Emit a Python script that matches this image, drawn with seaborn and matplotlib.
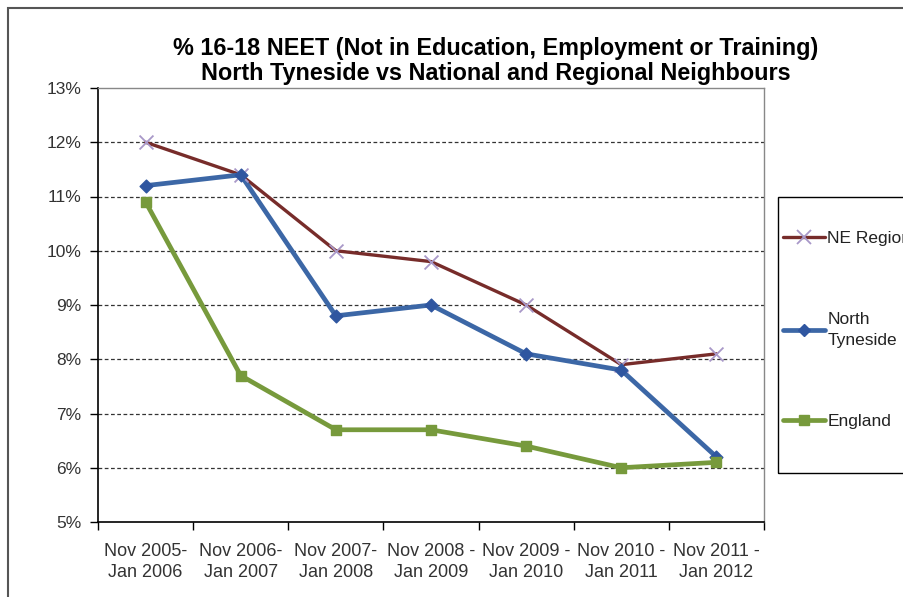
import matplotlib
matplotlib.use("Agg")
import matplotlib.pyplot as plt
import seaborn as sns
import pandas as pd
from matplotlib.patches import Rectangle
from matplotlib.lines import Line2D
from matplotlib.ticker import FuncFormatter

periods = ["Nov 2005-\nJan 2006", "Nov 2006-\nJan 2007", "Nov 2007-\nJan 2008",
           "Nov 2008 -\nJan 2009", "Nov 2009 -\nJan 2010", "Nov 2010 -\nJan 2011",
           "Nov 2011 -\nJan 2012"]
ne_region = [12.0, 11.4, 10.0, 9.8, 9.0, 7.9, 8.1]
north_tyneside = [11.2, 11.4, 8.8, 9.0, 8.1, 7.8, 6.2]
england = [10.9, 7.7, 6.7, 6.7, 6.4, 6.0, 6.1]
series_names = ["NE Region", "North\nTyneside", "England"]
title = "% 16-18 NEET (Not in Education, Employment or Training)\nNorth Tyneside vs National and Regional Neighbours"

sns.set_theme(style="white")
plt.rcParams["font.family"] = ["Liberation Sans", "DejaVu Sans"]

fig = plt.figure(figsize=(9.04, 5.97), dpi=100)
ax = fig.add_axes([98/904, 1 - 522/597, (764-98)/904, (522-88)/597])

x = list(range(len(periods)))
rows = []
for name, vals in zip(series_names, [ne_region, north_tyneside, england]):
    for i, v in enumerate(vals):
        rows.append({"x": i, "value": v, "series": name})
df = pd.DataFrame(rows)

styles = {
    "NE Region": dict(color="#772C2A", lw=2.4, marker="x", ms=10, mec="#A898C8", mfc="#A898C8", mew=1.3),
    "North\nTyneside": dict(color="#3C67A6", lw=3.4, marker="D", ms=6.5, mec="#2F56A0", mfc="#2F56A0", mew=1),
    "England": dict(color="#779A3C", lw=3.4, marker="s", ms=7.5, mec="#779A3C", mfc="#779A3C", mew=1),
}
for name in series_names:
    sub = df[df["series"] == name]
    st = styles[name]
    sns.lineplot(data=sub, x="x", y="value", ax=ax, color=st["color"], lw=st["lw"],
                 legend=False, zorder=3)
    sns.scatterplot(data=sub, x="x", y="value", ax=ax, marker=st["marker"],
                    s=st["ms"] ** 2, color=st["mfc"], edgecolor=st["mec"] if st["marker"] != "x" else None,
                    linewidth=st["mew"], legend=False, zorder=4)

ax.set_xlim(-0.5, len(periods) - 0.5)
ax.set_ylim(5, 13)
ax.set_yticks(range(5, 14))
ax.yaxis.set_major_formatter(FuncFormatter(lambda v, p: f"{int(v)}%"))
ax.set_xticks([i - 0.5 for i in range(len(periods) + 1)], minor=False)
ax.set_xticklabels([""] * (len(periods) + 1))
ax.set_xticks(x, minor=True)
ax.set_xticklabels(periods, minor=True, fontsize=13, color="#333333", linespacing=1.3)
ax.tick_params(axis="x", which="minor", length=0, pad=15)
ax.tick_params(axis="x", which="major", length=6, width=1, color="black", direction="out", bottom=True)
ax.tick_params(axis="y", length=6, width=1, color="black", direction="out", left=True,
               labelsize=12.5, labelcolor="#333333", pad=6)
for yv in range(6, 13):
    ax.axhline(yv, color="#333333", lw=0.9, ls=(0, (3, 2)), zorder=1)
ax.set_xlabel("")
ax.set_ylabel("")
for s in ["left", "bottom"]:
    ax.spines[s].set_color("black")
    ax.spines[s].set_linewidth(1.2)
for s in ["top", "right"]:
    ax.spines[s].set_color("#888888")
    ax.spines[s].set_linewidth(1.0)

fig.text(496/904, 1 - 61/597, title, ha="center", va="center", fontsize=16.8,
         fontweight="bold", linespacing=1.12, color="black")

# legend
handles = []
for name in series_names:
    st = styles[name]
    handles.append(Line2D([0], [0], color=st["color"], lw=st["lw"], marker=st["marker"],
                          ms=st["ms"], mec=st["mec"], mfc=st["mfc"], mew=st["mew"]))
leg = fig.legend(handles, series_names, loc="center left",
                 bbox_to_anchor=(783/904, 1 - 330/597), fontsize=12.5, frameon=False,
                 labelspacing=3.8, handlelength=2.4, handletextpad=0.15,
                 borderpad=0, borderaxespad=0)
for t in leg.get_texts():
    t.set_color("#222222")
    t.set_linespacing(1.45)

fig.patches.append(Rectangle((778/904, 1 - 473/597), 0.3, (473-197)/597,
                             transform=fig.transFigure, fill=False,
                             edgecolor="black", lw=1.0, zorder=5))

# outer chart border
fig.patches.append(Rectangle((8/904, -0.1), 1.2, 1 - 8/597 + 0.1, transform=fig.transFigure,
                             fill=False, edgecolor="#555555", lw=1.5, zorder=0))

fig.savefig("out.png", dpi=100, facecolor="white")
